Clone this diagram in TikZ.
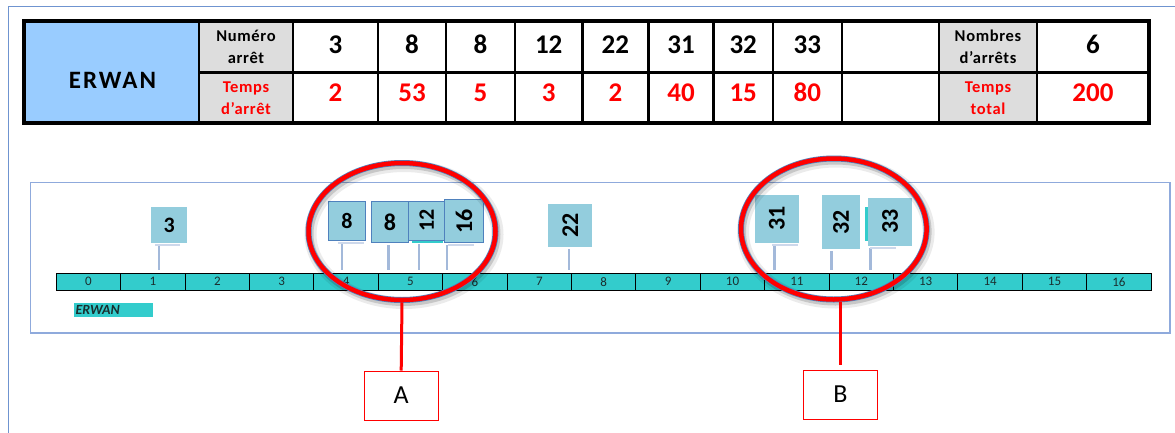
\documentclass[tikz,border=0pt]{standalone}
\usepackage{fontspec}
\usepackage{graphicx}
\setmainfont{Carlito}
\usetikzlibrary{shapes.geometric,calc}
\definecolor{frameblue}{HTML}{6F94D0}
\definecolor{boxblue}{HTML}{8FAADC}
\definecolor{erwanblue}{HTML}{99CCFF}
\definecolor{cellgrey}{HTML}{DDDDDD}
\definecolor{tealc}{HTML}{33CCCC}
\definecolor{flagfill}{HTML}{93CDDD}
\definecolor{flagedge}{HTML}{4F81BD}
\definecolor{stemc}{HTML}{A3B9DA}
\definecolor{redc}{HTML}{FF0000}
\definecolor{darktext}{HTML}{1A2E2E}
\begin{document}
\begin{tikzpicture}[x=1pt,y=-1pt,
  big/.style={inner sep=0, font={\fontsize{27}{30}\selectfont\bfseries}},
  lab/.style={inner sep=0, align=center, font={\fontsize{16.5}{22}\selectfont\bfseries\addfontfeature{LetterSpace=4}}},
  tick/.style={draw=black, line width=1, fill=tealc, minimum width=64.4, minimum height=16.7, inner sep=0, text=darktext, font={\fontsize{13}{13}\selectfont}},
  flag/.style={fill=flagfill, inner sep=0, font={\fontsize{24}{24}\selectfont\bfseries}},
  flagb/.style={flag, draw=flagedge, line width=1},
  stem/.style={stemc, line width=2.5},
  ring/.style={ellipse, draw=redc, line width=4.5, inner sep=0, preaction={draw=flagedge, line width=6}},
  redlink/.style={redc, line width=3},
  letterbox/.style={draw=redc, line width=1, fill=white, inner sep=0, minimum width=74.4, minimum height=49, font={\fontsize{26}{26}\selectfont}}
]
\useasboundingbox (0,0) rectangle (1175,432);
\clip (0,0) rectangle (1175,432);
\fill[white] (0,0) rectangle (1175,432);
% outer frame
\draw[frameblue, line width=1.5] (8.3,6.5) rectangle (1190,445);
% table fills
\fill[erwanblue] (24,21) rectangle (199,123);
\fill[cellgrey] (199,21) rectangle (293,123);
\fill[cellgrey] (939,21) rectangle (1037,123);
% table grid
\draw[black, line width=2.5] (199,72.5) -- (1149,72.5);
\foreach \x in {199,293,378,446,515,582.5,648.3,713.6,772.8,841.9,939,1037}
  \draw[black, line width=2.5] (\x,21) -- (\x,123);
\draw[black, line width=4.5] (24,21) rectangle (1149,123);
% table texts
\node[inner sep=0, font={\fontsize{25}{25}\selectfont\bfseries\addfontfeature{LetterSpace=8}}] (erwan) at (112.5,80.5) {ERWAN};
\node[lab] (numlab) at (246,47) {Numéro\\arrêt};
\node[lab, text=redc] (tpslab) at (246,98) {Temps\\d’arrêt};
\node[lab] (nblab) at (988,47) {Nombres\\d’arrêts};
\node[lab, text=redc] (totlab) at (988,98) {Temps\\total};
\node[big] (n1) at (335.5,44.5) {3};
\node[big] (n2) at (412,44.5) {8};
\node[big] (n3) at (480.5,44.5) {8};
\node[big] (n4) at (548.7,44.5) {12};
\node[big] (n5) at (615.4,44.5) {22};
\node[big] (n6) at (681,44.5) {31};
\node[big] (n7) at (743.2,44.5) {32};
\node[big] (n8) at (807.3,44.5) {33};
\node[big] (nb) at (1093,44.5) {6};
\node[big, text=redc] (t1) at (335.5,92.5) {2};
\node[big, text=redc] (t2) at (412,92.5) {53};
\node[big, text=redc] (t3) at (480.5,92.5) {5};
\node[big, text=redc] (t4) at (548.7,92.5) {3};
\node[big, text=redc] (t5) at (615.4,92.5) {2};
\node[big, text=redc] (t6) at (681,92.5) {40};
\node[big, text=redc] (t7) at (743.2,92.5) {15};
\node[big, text=redc] (t8) at (807.3,92.5) {80};
\node[big, text=redc] (tt) at (1093,92.5) {200};
% chart box
\draw[boxblue, line width=1.2] (30.6,182.7) rectangle (1170,333);
% timeline
\foreach \i in {0,...,16}
  \node[tick] (k\i) at ({56.3+64.4*(\i+0.5)},281.7) {\i};
% legend
\node[fill=tealc, inner sep=0, minimum width=79, minimum height=14, text width=76, align=left, text=darktext, font={\fontsize{14}{14}\selectfont\bfseries\itshape}] (leg) at (113.5,309.7) {ERWAN};
% stems
\foreach \n/\x/\y in {1/158.8/245, 2/341.8/243, 3/388.4/245, 4/419/244, 5/447/245, 6/569/249, 7/774.7/245, 8/831.6/251, 9/870.7/248}{
  \coordinate (sa\n) at (\x,\y);
  \coordinate (sb\n) at (\x,270);
  \draw[stem] (sa\n) -- (sb\n);
}
% faint shadows under boxes
\draw[stemc!55, line width=2] (155,245) -- (180,245);
\draw[stemc!55, line width=2] (338,242.5) -- (364,242.5);
\draw[stemc!55, line width=2] (448,244.5) -- (474,244.5);
\draw[stemc!55, line width=2] (772,244.5) -- (798,244.5);
\draw[stemc!55, line width=2] (870,247.5) -- (896,247.5);
\fill[tealc] (412,239.5) rectangle (443,242.5);
\fill[tealc] (865,207) rectangle (869,241);
% flags
\node[flag, minimum width=36.5, minimum height=36.6, font={\fontsize{22}{22}\selectfont\bfseries}] (f1) at (169.2,225) {3};
\node[flagb, minimum width=37.1, minimum height=39, font={\fontsize{22}{22}\selectfont\bfseries}] (f2) at (347,221.2) {8};
\node[flagb, minimum width=37.5, minimum height=41] (f3) at (390,222.2) {8};
\node[flagb, minimum width=36, minimum height=39, font={\fontsize{22}{22}\selectfont\bfseries}] (f4) at (426.7,220.5) {\rotatebox{90}{12}};
\node[flagb, minimum width=38.7, minimum height=43.4] (f5) at (464,221) {\rotatebox{90}{16}};
\node[flag, minimum width=44.4, minimum height=42.7] (f6) at (570.2,225.3) {\rotatebox{90}{22}};
\node[flag, minimum width=44.4, minimum height=47.7] (f7) at (776.8,218.8) {\rotatebox{90}{31}};
\node[flag, minimum width=38, minimum height=54] (f8) at (841,222) {\rotatebox{90}{32}};
\node[flag, minimum width=43.6, minimum height=48.3] (f9) at (890.2,221.8) {\rotatebox{90}{33}};
% ellipse shadows
\foreach \cx/\cy/\rx/\ry in {402/231.5/93.5/68.5, 833.8/229/92.8/70.5}{
  \draw[black, opacity=0.08, line width=12] (\cx+2,\cy+3) ellipse [x radius=\rx, y radius=\ry];
  \draw[black, opacity=0.15, line width=7] (\cx+1.5,\cy+2.5) ellipse [x radius=\rx, y radius=\ry];
}
% ellipses
\node[ring, minimum width=187, minimum height=137] (eA) at (402,231.5) {};
\node[ring, minimum width=185.6, minimum height=141] (eB) at (833.8,229) {};
% letter boxes
\node[letterbox] (bA) at (401.2,395.5) {A};
\node[letterbox] (bB) at (840.5,394.5) {B};
\draw[redlink] (eA.south) -- (bA.north);
\draw[redlink] (eB.south -| bB.north) -- ([yshift=5pt]bB.north);
\end{tikzpicture}
\end{document}
